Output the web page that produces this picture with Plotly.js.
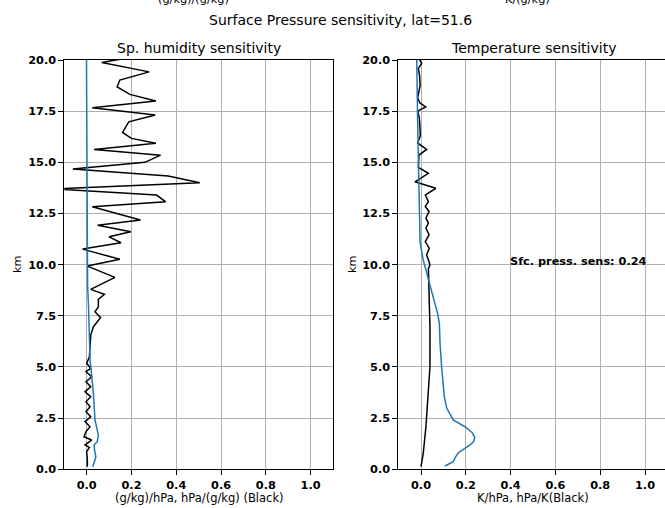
<!DOCTYPE html>
<html>
<head>
<meta charset="utf-8">
<script src="https://cdn.plot.ly/plotly-3.0.1.min.js"></script>
<style>html,body{margin:0;padding:0;background:#fff;}#chart{width:665px;height:508px;}</style>
</head>
<body>
<div id="chart"></div>
<script>
// Left panel: specific humidity sensitivity
const qBlackKm = [20.15,19.88,19.42,19.02,18.69,18.32,18.0,17.67,17.31,16.98,16.46,16.17,15.93,15.63,15.35,15.0,14.67,14.33,14.0,13.7,13.40,13.07,12.83,12.18,11.93,11.61,11.36,11.07,10.76,10.26,9.93,9.38,8.79,8.55,8.30,7.94,7.70,7.41,6.97,6.56,5.99,5.50,5.18,4.93,4.77,4.52,4.28,4.04,3.79,3.55,3.30,3.06,2.81,2.57,2.33,2.08,1.84,1.59,1.43,1.19,1.07,0.86,0.45,0.13];
const qBlackVal = [0.21,0.067,0.279,0.148,0.136,0.193,0.309,0.025,0.306,0.188,0.160,0.200,0.309,0.033,0.33,0.26,-0.062,0.364,0.505,-0.15,0.312,0.353,0.025,0.24,0.049,0.197,0.10,0.153,-0.018,0.148,0.003,0.126,0.018,0.079,0.052,0.052,0.037,0.062,0.03,0.018,0.015,0.012,0.0,0.018,-0.003,0.022,-0.003,0.018,-0.0075,0.018,-0.003,0.015,-0.003,0.018,-0.0075,0.015,-0.003,-0.012,0.022,-0.0075,0.012,0.0,0.003,0.003];
const qBlueKm = [20.2,15.0,10.0,9.0,8.0,7.0,6.0,5.34,4.85,3.71,2.41,1.92,1.68,1.35,1.19,0.94,0.62,0.45,0.13];
const qBlueVal = [-0.001,0.0,0.001,0.004,0.008,0.011,0.014,0.015,0.020,0.03,0.037,0.047,0.052,0.047,0.033,0.035,0.041,0.037,0.027];

// Right panel: temperature sensitivity
const tBlackKm = [20.1,19.83,19.59,19.2,18.75,18.35,18.15,17.9,17.71,17.5,17.2,16.8,16.3,15.95,15.63,15.35,15.03,14.75,14.46,14.05,13.73,13.4,13.08,12.84,12.6,12.27,12.03,11.78,11.46,11.13,10.8,10.47,10.14,9.98,9.8,8.6,6.97,5.01,3.71,2.08,0.78,0.13];
const tBlackVal = [-0.01,0.003,-0.012,-0.006,-0.004,-0.01,-0.015,-0.005,0.021,-0.015,-0.008,-0.005,-0.003,-0.015,0.025,-0.009,-0.009,-0.012,0.033,-0.027,0.066,0.019,0.033,0.019,0.036,0.022,0.033,0.022,0.036,0.019,0.037,0.025,0.036,0.04,0.033,0.037,0.04,0.04,0.033,0.022,0.01,0.0];
const tBlueKm = [20.2,20.0,17.0,12.9,11.1,10.22,9.25,8.27,7.62,7.13,6.16,5.01,4.04,3.55,2.98,2.41,2.08,1.79,1.55,1.35,1.19,0.81,0.62,0.37,0.16];
const tBlueVal = [-0.02,-0.019,-0.015,-0.009,-0.004,0.01,0.033,0.059,0.074,0.082,0.085,0.092,0.10,0.104,0.115,0.144,0.196,0.229,0.24,0.235,0.219,0.167,0.155,0.144,0.107];

const xTicks = [0.0,0.2,0.4,0.6,0.8,1.0];
const yTicks = [0.0,2.5,5.0,7.5,10.0,12.5,15.0,17.5,20.0];

const mainTitle = 'Surface Pressure sensitivity, lat=51.6';
const leftTitle = 'Sp. humidity sensitivity';
const rightTitle = 'Temperature sensitivity';
const leftXLabel = '(g/kg)/hPa, hPa/(g/kg) (Black)';
const rightXLabel = 'K/hPa, hPa/K(Black)';
const yLabel = 'km';
const prevRowLabels = ['(g/kg)/(g/kg)', 'K/(g/kg)'];
const sfcText = 'Sfc. press. sens: 0.24';

const W = 665, H = 508;
const FONT = 'DejaVu Sans, sans-serif';
const BLUE = '#1f77b4';

const traces = [
  {x: qBlackVal, y: qBlackKm, xaxis: 'x', yaxis: 'y', mode: 'lines', line: {color: '#000', width: 1.5}},
  {x: qBlueVal, y: qBlueKm, xaxis: 'x', yaxis: 'y', mode: 'lines', line: {color: BLUE, width: 1.5}},
  {x: tBlackVal, y: tBlackKm, xaxis: 'x2', yaxis: 'y2', mode: 'lines', line: {color: '#000', width: 1.5}},
  {x: tBlueVal, y: tBlueKm, xaxis: 'x2', yaxis: 'y2', mode: 'lines', line: {color: BLUE, width: 1.5}}
];

const yDom = [1 - 469.3 / H, 1 - 60 / H];
function xAx(dom, range, mirror) {
  return {
    domain: dom, range: range, tickvals: xTicks, ticktext: xTicks.map(v => '<b>' + v.toFixed(1) + '</b>'),
    showgrid: true, gridcolor: '#b0b0b0', gridwidth: 1, zeroline: false,
    showline: true, linecolor: '#000', linewidth: 1, mirror: mirror,
    ticks: 'outside', ticklen: 5, tickwidth: 1, tickcolor: '#000',
    tickfont: {family: FONT, size: 11.3, color: '#000'}, fixedrange: true
  };
}
function yAx(anchor, mirror) {
  return {
    domain: yDom, range: [0, 20], anchor: anchor, tickvals: yTicks, ticktext: yTicks.map(v => '<b>' + v.toFixed(1) + '</b>'),
    showgrid: true, gridcolor: '#b0b0b0', gridwidth: 1, zeroline: false,
    showline: true, linecolor: '#000', linewidth: 1, mirror: mirror,
    ticks: 'outside', ticklen: 5, tickwidth: 1, tickcolor: '#000',
    tickfont: {family: FONT, size: 11.3, color: '#000'}, fixedrange: true
  };
}

const lx0 = 64.3, lx1 = 333, rx0 = 398.3, rx1 = 665;
const rZero = 421, rScale = 224;

function ann(text, px, py, size, extra) {
  return Object.assign({text: text, xref: 'paper', yref: 'paper', x: px / W, y: 1 - py / H,
    xanchor: 'center', yanchor: 'middle', showarrow: false,
    font: {family: FONT, size: size, color: '#000'}}, extra || {});
}

const layout = {
  width: W, height: H, margin: {l: 0, r: 0, t: 0, b: 0},
  paper_bgcolor: '#fff', plot_bgcolor: '#fff', showlegend: false,
  xaxis: xAx([lx0 / W, lx1 / W], [-0.1, 1.1], true),
  yaxis: yAx('x', true),
  xaxis2: Object.assign(xAx([rx0 / W, 1], [(rx0 - rZero) / rScale, (rx1 - rZero) / rScale], true), {anchor: 'y2'}),
  yaxis2: yAx('x2', false),
  annotations: [
    ann(mainTitle, 340, 20, 14),
    ann(leftTitle, 199, 48, 14),
    ann(rightTitle, 533, 48, 14),
    ann(prevRowLabels[0], 193, -1, 11.3),
    ann(prevRowLabels[1], 527, -1, 11.3),
    ann(leftXLabel, 199, 498, 11.5),
    ann(rightXLabel, 533, 498, 11.5),
    ann(yLabel, 17, 264, 11.3, {textangle: -90}),
    ann(yLabel, 352, 264, 11.3, {textangle: -90}),
    {text: '<b>' + sfcText + '</b>', xref: 'x2', yref: 'y2', x: 0.39, y: 10.15, xanchor: 'left', yanchor: 'middle',
     showarrow: false, font: {family: FONT, size: 11.3, color: '#000'}}
  ]
};

Plotly.newPlot('chart', traces, layout, {displayModeBar: false, staticPlot: true});
</script>
</body>
</html>
